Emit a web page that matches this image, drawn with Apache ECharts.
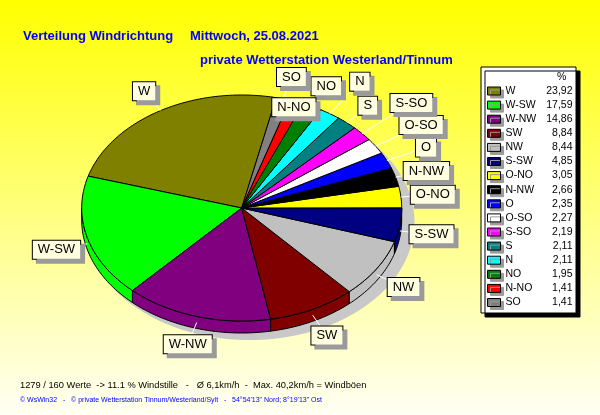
<!DOCTYPE html>
<html><head><meta charset="utf-8">
<script src="https://cdn.jsdelivr.net/npm/echarts@6/dist/echarts.min.js"></script>
<style>html,body{margin:0;padding:0;}#c{width:600px;height:415px;}</style>
</head><body><div id="c"></div>
<script>
const directions = ['W','W-SW','W-NW','SW','NW','S-SW','O-NO','N-NW','O','O-SO','S-SO','S','N','NO','N-NO','SO'];
const percents = [23.92,17.59,14.86,8.84,8.44,4.85,3.05,2.66,2.35,2.27,2.19,2.11,2.11,1.95,1.41,1.41];
const colors = ['#808000','#00ff00','#800080','#800000','#c0c0c0','#000080','#ffff00','#000000','#0000ff','#ffffff','#ff00ff','#008080','#00ffff','#008000','#ff0000','#808080'];
const titleText = 'Verteilung Windrichtung';
const dateText = 'Mittwoch, 25.08.2021';
const stationText = 'private Wetterstation Westerland/Tinnum';
const statsText = '1279 / 160 Werte  -> 11.1 % Windstille   -   Ø 6,1km/h  -  Max. 40,2km/h = Windböen';
const footerText = '© WsWin32   -   © private Wetterstation Tinnum/Westerland/Sylt   -   54°54\'13" Nord; 8°19\'13" Ost';

const FONT = 'Liberation Sans, Arial, sans-serif';
const START = 77.5, DEPTH = 12, LABEL_TOP_LIMIT = 60;
const LABEL_FONT = '13px ' + FONT;

const ANG = (function(){ let a = START; return percents.map(p => { const s = a; a += p * 3.6; return [s, a]; }); })();

function pt(api, deg, rx, ry, dx, dy){
  const t = deg * Math.PI / 180;
  const p = api.coord([rx * Math.cos(t), ry * Math.sin(t)]);
  return [p[0] + (dx||0), p[1] + (dy||0)];
}
function arc(api, a1, a2, r, dy){
  const pts = []; const n = Math.max(2, Math.ceil(Math.abs(a2 - a1)));
  for (let k = 0; k <= n; k++) pts.push(pt(api, a1 + (a2 - a1) * k / n, r, r, 0, dy));
  return pts;
}
function overlapArea(o, b){
  const w = Math.min(o[0] + o[2], b[0] + b[2]) - Math.max(o[0], b[0]);
  const h = Math.min(o[1] + o[3], b[1] + b[3]) - Math.max(o[1], b[1]);
  return (w > 0 && h > 0) ? w * h : 0;
}
let LAB = null;
function layoutLabels(api){
  const ctx = document.createElement('canvas').getContext('2d'); ctx.font = LABEL_FONT;
  const boxes = [];
  const radii = [1.2, 1.27, 1.34, 1.41, 0.95];
  return directions.map((d, i) => {
    const mid = (ANG[i][0] + ANG[i][1]) / 2;
    const w = ctx.measureText(d).width + 10, h = 19;
    const down = Math.sin(mid * Math.PI / 180) < 0 ? DEPTH * 0.5 : 0;
    let best = null;
    for (const r of radii) {
      const p = pt(api, mid, r, r, 0, down);
      const b = [p[0] - w / 2 - 1, p[1] - h / 2 - 1, w + 2, h + 2];
      if (b[1] < LABEL_TOP_LIMIT) continue;
      const ov = boxes.reduce((acc, o) => acc + overlapArea(o, b), 0);
      if (!best || ov < best.ov) best = { p: p, b: b, ov: ov };
      if (ov === 0) break;
    }
    boxes.push(best.b);
    return { x: best.p[0], y: best.p[1], mid: mid, start: pt(api, mid, 1, 1, 0, down) };
  });
}

function renderItem(params, api){
  const i = params.dataIndex;
  if (i === 0 || !LAB) LAB = layoutLabels(api);
  const [s, e] = ANG[i];
  const children = [];
  const c = api.coord([0, 0]);
  if (i === 0) {
    const sh = [];
    for (let t = 0; t < 360; t += 2) sh.push(pt(api, t, 1.03, 1.045, 8, 14));
    children.push({ type: 'polygon', z2: 0, shape: { points: sh }, style: { fill: '#c8c8c8' } });
  }
  const ss = Math.max(s, 180), ee = Math.min(e, 360);
  if (ee > ss) {
    const top = arc(api, ss, ee, 1, 0);
    const bot = arc(api, ee, ss, 1, DEPTH);
    children.push({ type: 'polygon', z2: 1, shape: { points: top.concat(bot) },
      style: { fill: colors[i], stroke: '#000', lineWidth: 1 } });
  }
  children.push({ type: 'polygon', z2: 2, shape: { points: [c].concat(arc(api, s, e, 1, 0)) },
    style: { fill: colors[i], stroke: '#000', lineWidth: 1, lineJoin: 'round' } });
  const L = LAB[i];
  children.push({ type: 'line', z2: 3, shape: { x1: L.start[0], y1: L.start[1], x2: L.x, y2: L.y },
    style: { stroke: '#ffffff', lineWidth: 1 } });
  children.push({ type: 'text', z2: 4 + i, style: {
    text: directions[i], x: L.x, y: L.y, align: 'center', verticalAlign: 'middle',
    font: LABEL_FONT, fill: '#000', backgroundColor: '#ffffe0', borderColor: '#000', borderWidth: 1,
    padding: [3, 5, 2, 5], shadowColor: '#9a9a9a', shadowOffsetX: 4, shadowOffsetY: 4, shadowBlur: 0 } });
  return { type: 'group', children: children };
}

const chart = echarts.init(document.getElementById('c'), null, { renderer: 'canvas' });
chart.setOption({
  animation: false,
  backgroundColor: { type: 'linear', x: 0, y: 0, x2: 0, y2: 1,
    colorStops: [{ offset: 0, color: '#ffff00' }, { offset: 0.45, color: '#ffff70' }, { offset: 1, color: '#fffff4' }] },
  grid: { left: 81.7, width: 320, top: 95, height: 226 },
  xAxis: { type: 'value', min: -1, max: 1, show: false },
  yAxis: { type: 'value', min: -1, max: 1, show: false },
  legend: {
    orient: 'vertical', left: 487, top: 84, itemGap: 0.1, itemWidth: 13, itemHeight: 8, padding: 0,
    icon: 'rect', selectedMode: false, z: 5,
    itemStyle: { borderColor: '#000', borderWidth: 1, shadowColor: '#9a9a9a', shadowOffsetX: 3, shadowOffsetY: 3, shadowBlur: 0 },
    data: directions,
    formatter: function(name){
      const v = percents[directions.indexOf(name)].toFixed(2).replace('.', ',');
      return '{n|' + name + '}{v|' + v + '}';
    },
    textStyle: { fontFamily: FONT, fontSize: 10.5, color: '#000', lineHeight: 14,
      rich: { n: { width: 40, fontSize: 10.5, lineHeight: 14 }, v: { width: 27, align: 'right', fontSize: 10.5, lineHeight: 14 } } }
  },
  graphic: [
    { type: 'rect', z: 1, shape: { x: 481, y: 67, width: 95, height: 246 },
      style: { fill: '#ffffff', stroke: '#000', lineWidth: 1, shadowColor: '#000', shadowOffsetX: 4, shadowOffsetY: 4, shadowBlur: 0 } },
    { type: 'text', z: 2, style: { text: '%', x: 557, y: 72, font: '10.5px ' + FONT, fill: '#000' } },
    { type: 'text', z: 2, style: { text: titleText, x: 23, y: 30, verticalAlign: 'alphabetic', font: 'bold 13px ' + FONT, fill: '#0000ff' } },
    { type: 'text', z: 2, style: { text: dateText, x: 190, y: 30, verticalAlign: 'alphabetic', font: 'bold 13px ' + FONT, fill: '#0000ff' } },
    { type: 'text', z: 2, style: { text: stationText, x: 200, y: 54, verticalAlign: 'alphabetic', font: 'bold 13px ' + FONT, fill: '#0000ff' } },
    { type: 'text', z: 2, style: { text: statsText, x: 20, y: 381, verticalAlign: 'alphabetic', font: '9.3px ' + FONT, fill: '#000' } },
    { type: 'text', z: 2, style: { text: footerText, x: 20, y: 397, verticalAlign: 'alphabetic', font: '7px ' + FONT, fill: '#0000ff' } }
  ],
  series: [
    { type: 'custom', name: 'Windrichtung', coordinateSystem: 'cartesian2d', clip: false, silent: true,
      renderItem: renderItem, data: directions.map((d, i) => [i, percents[i]]) },
    { type: 'pie', name: 'legend', center: [-100, -100], radius: 0, silent: true,
      label: { show: false }, labelLine: { show: false },
      data: directions.map((d, i) => ({ name: d, value: percents[i], itemStyle: { color: colors[i] } })) }
  ]
});
</script>
</body></html>
